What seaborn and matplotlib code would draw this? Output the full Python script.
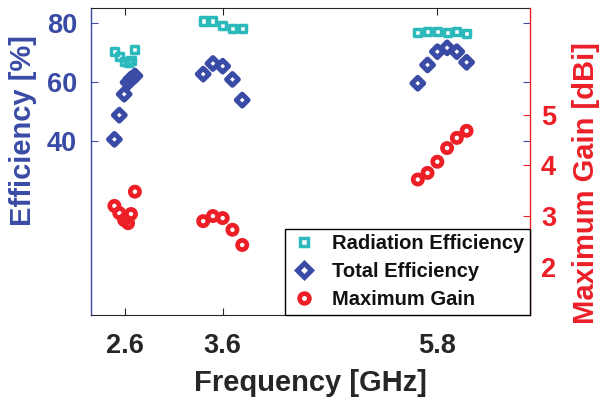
import matplotlib
matplotlib.use("Agg")
import matplotlib.pyplot as plt
import seaborn as sns
import pandas as pd
from matplotlib.lines import Line2D

# ---- data ----
frequency = [2.49, 2.54, 2.59, 2.63, 2.66, 2.70,
             3.40, 3.50, 3.60, 3.70, 3.80,
             5.60, 5.70, 5.80, 5.90, 6.00, 6.10]
radiation_eff = [70.3, 68.6, 67.0, 66.6, 67.3, 70.8,
                 80.6, 80.6, 79.0, 77.9, 77.9,
                 76.6, 76.9, 76.9, 76.6, 76.9, 76.4]
total_eff = [40.5, 48.7, 55.8, 59.8, 61.0, 62.0,
             62.6, 66.2, 65.3, 60.8, 53.8,
             59.5, 65.7, 70.2, 71.5, 70.2, 66.6]
max_gain = [3.20, 3.06, 2.92, 2.86, 3.04, 3.48,
            2.90, 3.00, 2.96, 2.73, 2.43,
            3.72, 3.85, 4.07, 4.34, 4.54, 4.68]
x_ticks = [2.6, 3.6, 5.8]
x_tick_labels = ["2.6", "3.6", "5.8"]
eff_ticks = [40, 60, 80]
gain_ticks = [2, 3, 4, 5]
legend_labels = ["Radiation Efficiency", "Total Efficiency", "Maximum Gain"]

df = pd.DataFrame({"freq": frequency, "rad": radiation_eff,
                   "tot": total_eff, "gain": max_gain})

sns.set_style("white")
plt.rcParams["font.family"] = ["Liberation Sans", "DejaVu Sans"]
plt.rcParams["font.weight"] = "bold"

TEAL = "#2BB9BB"
BLUE = "#3A4BA6"
RED = "#EC1F27"
DARK = "#262626"

fig = plt.figure(figsize=(6.07, 3.99), dpi=100)
ax = fig.add_axes([91/607, 84/399, 439/607, 307/399])
ax2 = ax.twinx()

sns.scatterplot(data=df, x="freq", y="rad", ax=ax, marker="s", s=26,
                facecolor="none", edgecolor=TEAL, linewidth=2.5, zorder=3)
sns.scatterplot(data=df, x="freq", y="tot", ax=ax, marker="D", s=36,
                facecolor="none", edgecolor=BLUE, linewidth=3.6, zorder=3)
sns.scatterplot(data=df, x="freq", y="gain", ax=ax2, marker="o", s=44,
                facecolor="none", edgecolor=RED, linewidth=3.4, zorder=3)

ax.set_xlim(2.25, 6.75)
ax.set_ylim(-19, 85)
ax2.set_ylim(1.05, 7.1)

ax.set_xticks(x_ticks)
ax.set_xticklabels(x_tick_labels)
ax.set_yticks(eff_ticks)
ax2.set_yticks(gain_ticks)

ax.tick_params(axis="x", direction="in", top=True, bottom=True, length=5,
               width=0.8, color=DARK, labelsize=19.5, labelcolor=DARK, pad=13)
ax.tick_params(axis="y", direction="in", left=True, right=True, length=5,
               width=0.8, color=BLUE, labelsize=19.5, labelcolor=BLUE, pad=10)
ax2.tick_params(axis="y", direction="in", right=True, length=5, width=0.8,
                color=RED, labelsize=19.5, labelcolor=RED, pad=8)
for lab in ax.get_xticklabels() + ax.get_yticklabels() + ax2.get_yticklabels():
    lab.set_fontweight("bold")

for sp in ["top", "bottom"]:
    ax.spines[sp].set_color(DARK)
    ax.spines[sp].set_linewidth(0.8)
ax.spines["left"].set_color(BLUE)
ax.spines["left"].set_linewidth(1.0)
ax.spines["right"].set_visible(False)
for sp in ["top", "bottom", "left"]:
    ax2.spines[sp].set_visible(False)
ax2.spines["right"].set_color(RED)
ax2.spines["right"].set_linewidth(1.0)

ax.set_xlabel("Frequency [GHz]", fontsize=21, fontweight="bold", color=DARK)
ax.set_ylabel("Efficiency [%]", fontsize=21, fontweight="bold", color=BLUE)
ax2.set_ylabel("Maximum Gain [dBi]", fontsize=21, fontweight="bold", color=RED)
ax.xaxis.set_label_coords(0.5, -0.175)
ax.yaxis.set_label_coords(-0.124, 0.6)
ax2.yaxis.set_label_coords(1.096, 0.43)

handles = [
    Line2D([], [], linestyle="none", marker="s", markersize=6,
           markerfacecolor="none", markeredgecolor=TEAL, markeredgewidth=2.5),
    Line2D([], [], linestyle="none", marker="D", markersize=7,
           markerfacecolor="none", markeredgecolor=BLUE, markeredgewidth=3.6),
    Line2D([], [], linestyle="none", marker="o", markersize=7,
           markerfacecolor="none", markeredgecolor=RED, markeredgewidth=3.4),
]
leg = ax2.legend(handles, legend_labels, loc="lower right",
                 bbox_to_anchor=(1.0, 0.0), borderaxespad=0.0,
                 fancybox=False, framealpha=1.0, edgecolor="black",
                 prop={"size": 14.5, "weight": "bold"}, handlelength=1.3,
                 handletextpad=0.75, labelspacing=0.45, borderpad=0.28)
leg.get_frame().set_linewidth(1.0)
for t in leg.get_texts():
    t.set_color("#111111")

fig.savefig("out.png", dpi=100)
